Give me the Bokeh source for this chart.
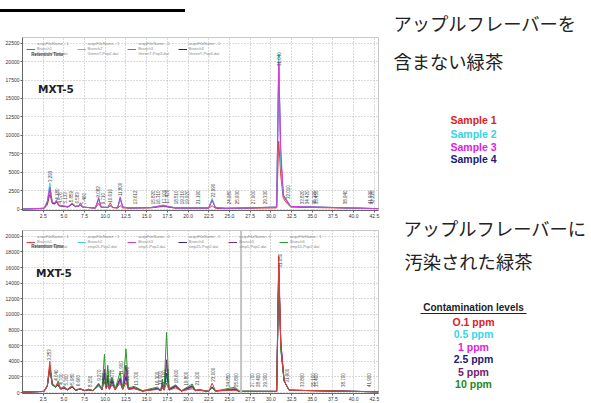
import numpy as np
from bokeh.plotting import figure
from bokeh.layouts import row, column
from bokeh.models import (Range1d, FixedTicker, PrintfTickFormatter, Label, Span,
                          Legend, LegendItem, BoxAnnotation, Div)
from bokeh.embed import file_html
from bokeh.resources import INLINE
from bokeh.core.properties import value

# ---------------- data ----------------
X_TICKS = [2.5, 5.0, 7.5, 10.0, 12.5, 15.0, 17.5, 20.0, 22.5, 25.0, 27.5, 30.0,
           32.5, 35.0, 37.5, 40.0, 42.5]
Y_TICKS_TOP = [0, 2500, 5000, 7500, 10000, 12500, 15000, 17500, 20000, 22500]
Y_TICKS_BOT = [0, 2000, 4000, 6000, 8000, 10000, 12000, 14000, 16000, 18000, 20000]

# top chromatogram: green tea without apple flavour (retention time, min)
T_TOP = [0.0, 2.6, 3.0, 3.3, 3.6, 3.9, 4.1, 4.4, 5.5, 6.0, 6.4, 6.8, 7.0, 7.3, 8.8,
         9.2, 9.5, 10.3, 10.6, 10.9, 11.5, 11.8, 12.1, 13.0, 15.5, 17.0, 18.5, 22.5,
         22.9, 23.3, 24.5, 30.7, 30.95, 31.2, 31.5, 31.8, 32.4, 43.0]
SAMPLE1 = [50, 100, 600, 2000, 800, 700, 1000, 500, 300, 700, 350, 500, 900, 300, 150,
           800, 250, 300, 900, 250, 150, 500, 200, 150, 200, 400, 150, 150,
           500, 150, 100, 200, 9200, 4500, 1500, 1000, 300, 100]
SAMPLE2 = [50, 150, 1200, 3600, 1000, 900, 1300, 600, 400, 900, 450, 500, 600, 300, 200,
           1300, 300, 250, 600, 250, 250, 1400, 300, 200, 250, 600, 200, 200,
           1500, 300, 150, 300, 21000, 6000, 1800, 1500, 400, 100]
SAMPLE3 = [50, 150, 1000, 3000, 900, 850, 1200, 550, 350, 800, 400, 450, 600, 300, 200,
           1600, 300, 250, 500, 250, 250, 1700, 300, 200, 250, 500, 200, 200,
           1200, 250, 150, 300, 20000, 8000, 2000, 1400, 400, 100]
SAMPLE4 = [50, 150, 900, 2800, 850, 800, 1100, 500, 350, 750, 400, 450, 550, 300, 200,
           1400, 300, 250, 500, 250, 250, 1500, 300, 200, 250, 500, 200, 200,
           1300, 250, 150, 300, 19500, 7000, 1900, 1300, 400, 100]
TOP_NAMES = ["Sample 1", "Sample 2", "Sample 3", "Sample 4"]
TOP_LEGEND = ["acquFileName - 1\nBranch1\nGreenT-Pop1.dat",
              "acquFileName - 1\nBranch2\nGreenT-Pop2.dat",
              "acquFileName - 1\nBranch3\nGreenT-Pop3.dat",
              "acquFileName - 1\nBranch4\nGreenT-Pop4.dat"]

# bottom chromatogram: green tea contaminated with apple flavour
T_BOT = [0.0, 2.6, 3.0, 3.3, 3.6, 4.0, 4.3, 4.6, 5.0, 5.4, 6.0, 6.4, 7.0, 7.5, 8.0, 8.5,
         9.2, 9.6, 9.9, 10.1, 10.3, 10.5, 10.8, 11.2, 11.8, 12.1, 12.5, 12.8, 13.5, 14.5,
         16.3, 16.7, 16.9, 17.1, 17.4, 17.7, 18.5, 19.2, 20.5, 20.9, 21.3, 22.5, 22.9,
         23.3, 25.7, 26.2, 30.7, 30.95, 31.2, 31.6, 32.2, 43.0]
PPM_01 = [50, 150, 900, 4000, 1200, 800, 1200, 500, 700, 400, 800, 350, 500, 250, 400, 250,
          900, 400, 1400, 500, 900, 400, 1000, 400, 1200, 400, 1300, 400, 500, 200,
          400, 250, 600, 300, 1200, 300, 600, 200, 500, 250, 300, 150, 1200,
          250, 300, 150, 150, 17500, 6000, 1500, 300, 100]
PPM_05 = [50, 150, 800, 3500, 1100, 700, 1000, 450, 600, 350, 700, 300, 450, 250, 350, 250,
          800, 400, 1800, 500, 1200, 400, 1200, 400, 1300, 400, 2000, 450, 500, 200,
          450, 250, 700, 300, 2000, 350, 700, 200, 600, 250, 300, 150, 800,
          200, 300, 150, 150, 16000, 5500, 1400, 300, 100]
PPM_1 = [50, 150, 800, 3200, 1000, 700, 1000, 450, 600, 350, 700, 300, 450, 250, 350, 250,
         900, 400, 2200, 600, 1500, 450, 1400, 400, 1500, 450, 2500, 450, 550, 200,
         500, 250, 800, 350, 3900, 400, 800, 200, 700, 250, 300, 150, 700,
         200, 350, 150, 150, 15500, 6500, 1500, 300, 100]
PPM_25 = [50, 150, 900, 3300, 1000, 700, 1000, 450, 600, 350, 700, 300, 450, 250, 350, 250,
          1000, 400, 2500, 600, 1800, 450, 1500, 400, 1700, 450, 2000, 450, 600, 200,
          500, 250, 1000, 350, 2500, 400, 800, 200, 800, 250, 350, 150, 700,
          200, 400, 150, 150, 16500, 6000, 1500, 300, 100]
PPM_5 = [50, 150, 850, 3000, 1000, 700, 1000, 450, 600, 350, 700, 300, 450, 250, 350, 250,
         1100, 400, 3000, 700, 2200, 500, 1700, 400, 1900, 450, 3500, 500, 650, 200,
         550, 250, 1300, 400, 4200, 450, 900, 200, 900, 250, 350, 150, 650,
         200, 500, 150, 150, 15000, 6500, 1500, 300, 100]
PPM_10 = [50, 150, 900, 3400, 1000, 700, 1500, 500, 800, 400, 900, 350, 500, 250, 450, 250,
          1200, 400, 4900, 900, 3500, 600, 2000, 500, 2600, 500, 5600, 600, 800, 250,
          700, 300, 1700, 400, 7700, 500, 1000, 250, 1100, 300, 400, 150, 600,
          200, 700, 200, 150, 16000, 5500, 1500, 300, 100]
BOT_NAMES = ["O.1 ppm", "0.5 ppm", "1 ppm", "2.5 ppm", "5 ppm", "10 ppm"]
BOT_LEGEND = ["acquFileName - 1\nBranch1\nSMP01-Pop1.dat",
              "acquFileName - 1\nBranch2\nsmp05-Pop2.dat",
              "acquFileName - 1\nBranch3\nsmp1-Pop2.dat",
              "acquFileName - 1\nBranch4\nsmp25-Pop2.dat",
              "acquFileName - 1\nBranch5\nsmp5-Pop2.dat",
              "acquFileName - 1\nBranch6\nsmp10-Pop2.dat"]

# peak annotations (retention time, label base height)
PK_TOP_T = [3.293, 4.180, 4.576, 5.133, 5.859, 6.583, 7.460, 9.082, 9.710, 10.610, 11.800,
            13.612, 15.820, 16.310, 17.100, 17.420, 18.510, 19.210, 19.920, 21.190, 22.990,
            24.980, 25.930, 27.900, 29.330, 31.040, 32.010, 33.820, 34.420, 35.220, 35.450,
            38.940, 41.930, 42.220]
PK_TOP_Y = [3700, 1300, 800, 800, 950, 800, 700, 1600, 700, 900, 1800,
            700, 700, 700, 800, 800, 700, 700, 700, 700, 1600,
            700, 700, 700, 700, 19400, 1400, 700, 700, 700, 700,
            700, 700, 700]
PK_BOT_T = [3.253, 4.040, 4.700, 5.300, 5.980, 6.660, 8.150, 9.270, 9.800, 10.500, 10.770,
            11.900, 12.600, 13.700, 16.300, 16.600, 17.100, 17.400, 18.600, 19.800, 21.100,
            23.000, 24.850, 25.800, 27.700, 28.400, 29.300, 31.050, 31.900, 33.800, 35.100,
            35.400, 38.700, 41.900]
PK_BOT_Y = [4100, 1500, 1000, 900, 1000, 800, 700, 1500, 1100, 1200, 1200,
            2300, 1500, 900, 900, 1000, 1100, 1300, 1200, 900, 900,
            1400, 700, 700, 700, 700, 700, 16000, 1300, 700, 700,
            700, 700, 700]

TOP_COLORS = ["#e8383d", "#3cd6e0", "#d63ad6", "#2b2b84"]
BOT_COLORS = ["#e8383d", "#3cd6e0", "#d63ad6", "#2b2b84", "#7a2a7a", "#2e9a2e"]
TOP_TEXT_COLORS = ["#e02020", "#34d4e4", "#e020e0", "#202070"]
BOT_TEXT_COLORS = ["#e02020", "#34d8e8", "#e020e0", "#202070", "#702070", "#208a20"]

LEFT_W = 384
RIGHT_W = 207
TOTAL_H = 403


def chrom_fig(height, y_start, y_end, yticks, mb_top, mb_bottom):
    p = figure(width=LEFT_W, height=height, x_range=Range1d(0.0, 43.0),
               y_range=Range1d(y_start, y_end), output_backend="svg",
               toolbar_location=None, min_border_left=22, min_border_right=6,
               min_border_top=mb_top, min_border_bottom=mb_bottom)
    p.background_fill_color = "white"
    p.border_fill_color = "white"
    p.outline_line_color = "#c8c8c8"
    p.xaxis.ticker = FixedTicker(ticks=X_TICKS)
    p.xaxis.formatter = PrintfTickFormatter(format="%.1f")
    p.yaxis.ticker = FixedTicker(ticks=yticks)
    p.axis.major_label_text_font_size = "5px"
    p.axis.major_label_text_font = "Liberation Sans"
    p.axis.major_label_text_color = "#333333"
    p.axis.major_label_standoff = 1
    p.axis.major_tick_in = 0
    p.axis.major_tick_out = 2
    p.axis.minor_tick_line_color = None
    p.axis.axis_line_color = "#666666"
    p.axis.major_tick_line_color = "#666666"
    p.grid.grid_line_color = "#b4b4b4"
    p.grid.grid_line_dash = "1 2"
    p.grid.grid_line_width = 1
    return p


def add_common(p, times, series, colors, order, legend_labels, pk_t, pk_y, mxt_x, mxt_y, rt_y):
    rends = {}
    for i in order:
        rends[i] = p.line(times, series[i], line_color=colors[i], line_width=1)
    p.text(x=pk_t, y=pk_y, text=[f"{t:.3f}" for t in pk_t], angle=np.pi / 2,
           text_font_size="4.5px", text_align="left", text_baseline="middle",
           text_color="#444444", text_font=value("Liberation Sans"))
    items = [LegendItem(label=legend_labels[i], renderers=[rends[i]])
             for i in range(len(series))]
    leg = Legend(items=items, orientation="horizontal", location="top_left",
                 label_text_font_size="4px", label_text_color="#8a8a8a",
                 label_text_font="Liberation Sans", glyph_width=9, glyph_height=4,
                 label_standoff=2, spacing=8, padding=1, margin=4,
                 background_fill_alpha=0, border_line_color=None,
                 label_height=4, label_text_line_height=0.9)
    p.add_layout(leg)
    p.add_layout(Label(x=1.05, y=rt_y, text="Retention Time", text_font_size="4.5px",
                       text_font="Liberation Sans", text_font_style="bold",
                       text_color="#333333", text_baseline="middle"))
    p.add_layout(Label(x=mxt_x, y=mxt_y, text="MXT-5", text_font="DejaVu Sans",
                       text_font_style="bold", text_font_size="10.5px",
                       text_color="#222222", text_baseline="middle"))


# header rule (page top)
header = Div(width=LEFT_W, height=30, margin=(0, 0, 0, 0),
             text='<div style="margin:4px 0 0 0;width:185px;height:3px;background:#000;"></div>')

# top chart: frame 37..212
top = chrom_fig(190, -150, 23250, Y_TICKS_TOP, 7, 8)
add_common(top, T_TOP, [SAMPLE1, SAMPLE2, SAMPLE3, SAMPLE4], TOP_COLORS, [0, 3, 1, 2],
           TOP_LEGEND, PK_TOP_T, PK_TOP_Y, 1.87, 16300, 20980)

# bottom chart: frame 230..398
bot = chrom_fig(183, -120, 20750, Y_TICKS_BOT, 10, 5)
bot.add_layout(Span(location=26.4, dimension="height", line_color="#c4c4c4", line_width=2))
add_common(bot, T_BOT, [PPM_01, PPM_05, PPM_1, PPM_25, PPM_5, PPM_10], BOT_COLORS,
           [1, 2, 3, 4, 5, 0], BOT_LEGEND, PK_BOT_T, PK_BOT_Y, 1.63, 15300, 18650)

# right-hand text panel
right = figure(width=RIGHT_W, height=TOTAL_H, x_range=Range1d(0, RIGHT_W),
               y_range=Range1d(0, TOTAL_H), x_axis_type=None, y_axis_type=None,
               min_border=0, output_backend="svg", toolbar_location=None,
               outline_line_color=None)
right.grid.visible = False


def jp(x, y, t):
    right.add_layout(Label(x=x, y=y, text=t, text_font="Noto Sans CJK JP",
                           text_font_size="18.3px", text_color="#222222",
                           text_baseline="middle"))


jp(9, 381, "アップルフレーバーを")
jp(9, 343, "含まない緑茶")
jp(19, 176, "アップルフレーバーに")
jp(20, 143, "汚染された緑茶")

for name, col, y in zip(TOP_NAMES, TOP_TEXT_COLORS, [284, 270, 257, 245]):
    right.add_layout(Label(x=89, y=y, text=name, text_font="Liberation Sans",
                           text_font_style="bold", text_font_size="10.5px",
                           text_color=col, text_align="center", text_baseline="middle"))

right.add_layout(Label(x=89, y=96, text="Contamination levels", text_font="Liberation Sans",
                       text_font_style="bold", text_font_size="10px", text_color="#222222",
                       text_align="center", text_baseline="middle"))
right.add_layout(BoxAnnotation(left=36, right=142, bottom=89.5, top=90.6,
                               fill_color="#222222", fill_alpha=1, line_color=None))
for name, col, y in zip(BOT_NAMES, BOT_TEXT_COLORS, [82, 70, 57, 45, 32, 20]):
    right.add_layout(Label(x=89, y=y, text=name, text_font="Liberation Sans",
                           text_font_style="bold", text_font_size="10.5px",
                           text_color=col, text_align="center", text_baseline="middle"))

layout = row(column(header, top, bot), right)
open("out.html", "w").write(file_html(layout, INLINE))
